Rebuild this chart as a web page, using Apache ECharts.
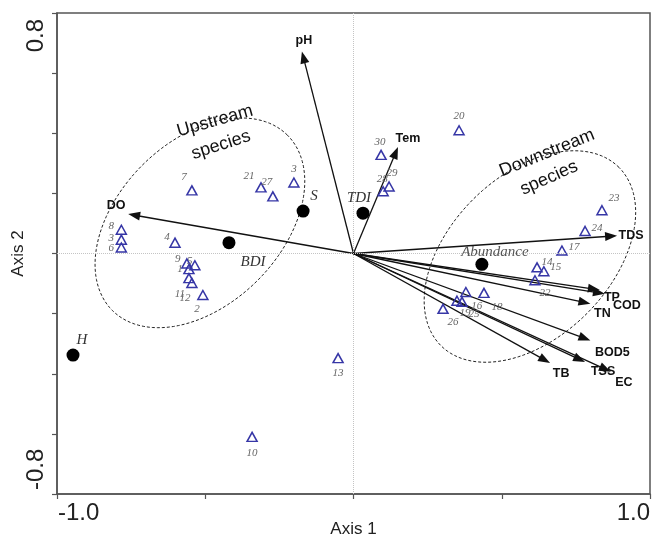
<!DOCTYPE html>
<html><head><meta charset="utf-8">
<script src="https://cdn.jsdelivr.net/npm/echarts@6/dist/echarts.min.js"></script>
<style>html,body{margin:0;padding:0;background:#fff}#c{width:652px;height:543px}</style>
</head><body><div id="c"></div>
<script>
// ---- data ----
const envNames = ['pH','Tem','DO','TDS','TP','COD','TN','BOD5','TB','TSS','EC'];
const envX = [-0.174, 0.150, -0.760, 0.889, 0.831, 0.848, 0.799, 0.799, 0.663, 0.781, 0.868];
const envY = [ 0.672, 0.354,  0.131, 0.059, -0.121, -0.134, -0.167, -0.289, -0.364, -0.361, -0.393];

const suppNames = ['H','BDI','S','TDI','Abundance'];
const suppX = [-0.946, -0.420, -0.170, 0.032, 0.433];
const suppY = [-0.338,  0.036,  0.141, 0.134, -0.036];

const speciesNames = ['7','8','3','6','4','9','5','1','11','12','2','21','27','3','30','28','29','20','23','24','17','14','15','22','16','18','19','25','26','13','10'];
const speciesX = [-0.545,-0.783,-0.783,-0.783,-0.602,-0.562,-0.535,-0.555,-0.555,-0.545,-0.508,-0.312,-0.272,-0.201,0.093,0.100,0.120,0.356,0.838,0.781,0.703,0.619,0.642,0.612,0.379,0.440,0.349,0.366,0.302,-0.052,-0.342];
const speciesY = [0.210,0.079,0.046,0.020,0.036,-0.033,-0.039,-0.052,-0.082,-0.098,-0.138,0.220,0.190,0.236,0.328,0.207,0.223,0.410,0.144,0.075,0.010,-0.046,-0.059,-0.089,-0.128,-0.131,-0.157,-0.161,-0.184,-0.348,-0.610];

const xTickLabels = ['-1.0','1.0'];
const yTickLabels = ['-0.8','0.8'];

const groupNames = [['Upstream','species'],['Downstream','species']];
const ellipseCX = [-0.518, 0.595];
const ellipseCY = [ 0.102, -0.010];
const ellipseA = [0.415, 0.422];
const ellipseB = [0.273, 0.270];
const ellipseAngle = [45, 45];

// ---- styling (label offsets in px) ----
const envLabelOffset = {pH:[2,-11],Tem:[10,-9],DO:[-12,-9],TDS:[14,0],TP:[12,8],COD:[22,12],TN:[12,10],BOD5:[22,12],TB:[11,11],TSS:[18,10],EC:[13,11]};
const speciesLabelOffset = [[-8,-13],[-10,-4],[-10,-2],[-10,1],[-8,-6],[-9,-4],[-5,-4],[-9,0],[-9,16],[-7,15],[-6,14],[-12,-11],[-6,-14],[0,-13],[-1,-13],[-1,-12],[3,-13],[0,-14],[12,-12],[12,-3],[12,-3],[10,-5],[12,-4],[10,13],[11,14],[13,14],[8,12],[12,12],[10,13],[0,15],[0,16]];
const suppLabelOffset = [[9,-15],[24,19],[11,-15],[-4,-15],[13,-12]];

const chart = echarts.init(document.getElementById('c'), null, {renderer:'canvas'});
const SANS = 'Liberation Sans, Arial, sans-serif';
const SERIF = 'Liberation Serif, Times New Roman, serif';

const option = {
  animation: false,
  grid: {left:57, right:2, top:13, bottom:42, show:true, borderColor:'#555', borderWidth:1.5},
  xAxis: {
    type:'value', min:-1, max:1, interval:0.5,
    axisLine:{show:true, onZero:false, lineStyle:{color:'#555', width:1.5}},
    axisTick:{show:true, length:5, lineStyle:{color:'#555', width:1.2}},
    axisLabel:{show:false}, splitLine:{show:false},
    name:'Axis 1', nameLocation:'middle', nameGap:27,
    nameTextStyle:{fontSize:17, color:'#222', fontFamily:SANS}
  },
  yAxis: {
    type:'value', min:-0.8, max:0.8, interval:0.2,
    axisLine:{show:true, onZero:false, lineStyle:{color:'#555', width:1.5}},
    axisTick:{show:true, length:5, lineStyle:{color:'#555', width:1.2}},
    axisLabel:{show:false}, splitLine:{show:false},
    name:'Axis 2', nameLocation:'middle', nameGap:30,
    nameTextStyle:{fontSize:17, color:'#222', fontFamily:SANS}
  },
  series: [
    {
      type:'custom', coordinateSystem:'cartesian2d', silent:true, z:1,
      data: ellipseCX.map((cx,i)=>[cx, ellipseCY[i], ellipseA[i], ellipseB[i], ellipseAngle[i]]),
      renderItem(params, api){
        const c = api.coord([api.value(0), api.value(1)]);
        const s = api.size([1,1]);
        const k = Math.sqrt(s[0]*s[1]);
        const rx = api.value(2)*k, ry = api.value(3)*k;
        const t = api.value(4)*Math.PI/180;
        const pts = [];
        for (let j=0;j<120;j++){
          const a = j/120*2*Math.PI;
          const ex = rx*Math.cos(a), ey = ry*Math.sin(a);
          pts.push([c[0] + ex*Math.cos(t) - ey*Math.sin(t), c[1] - (ex*Math.sin(t) + ey*Math.cos(t))]);
        }
        return {type:'polygon', shape:{points:pts}, style:{fill:'none', stroke:'#222', lineWidth:1, lineDash:[3,2]}};
      }
    },
    {
      type:'scatter', symbol:'circle', symbolSize:0, silent:true, z:0,
      data:[[0,0]],
      markLine:{silent:true, symbol:['none','none'], label:{show:false},
        lineStyle:{type:'dotted', color:'#c4c4c4', width:1},
        data:[{xAxis:0},{yAxis:0}]}
    },
    {
      type:'custom', coordinateSystem:'cartesian2d', silent:true, z:3,
      data: envNames.map((n,i)=>[envX[i], envY[i]]),
      renderItem(params, api){
        const name = envNames[params.dataIndex];
        const off = envLabelOffset[name];
        const p0 = api.coord([0,0]);
        const p1 = api.coord([api.value(0), api.value(1)]);
        const dx = p1[0]-p0[0], dy = p1[1]-p0[1];
        const L = Math.hypot(dx,dy), ux = dx/L, uy = dy/L;
        const hl = 12, hw = 4.5;
        const bx = p1[0]-ux*hl, by = p1[1]-uy*hl;
        return {type:'group', children:[
          {type:'line', shape:{x1:p0[0], y1:p0[1], x2:bx+ux*1, y2:by+uy*1}, style:{stroke:'#111', lineWidth:1.3}},
          {type:'polygon', shape:{points:[[p1[0],p1[1]],[bx-uy*hw, by+ux*hw],[bx+uy*hw, by-ux*hw]]}, style:{fill:'#111'}},
          {type:'text', x:p1[0]+off[0], y:p1[1]+off[1], style:{text:name, fill:'#111', font:'bold 12.5px '+SANS, align:'center', verticalAlign:'middle', textAlign:'center', textVerticalAlign:'middle'}}
        ]};
      }
    },
    {
      type:'scatter', z:4, symbol:'triangle', symbolSize:[10,9],
      itemStyle:{color:'rgba(255,255,255,0)', borderColor:'#3636a6', borderWidth:1.5, opacity:1},
      data: speciesNames.map((n,i)=>({name:n, value:[speciesX[i], speciesY[i]],
        label:{offset:speciesLabelOffset[i]}})),
      label:{show:true, position:'inside', formatter:'{b}', fontFamily:SERIF, fontStyle:'italic', fontSize:11, color:'#666'}
    },
    {
      type:'scatter', z:5, symbol:'circle', symbolSize:13,
      itemStyle:{color:'#000', opacity:1},
      data: suppNames.map((n,i)=>({name:n, value:[suppX[i], suppY[i]],
        label:{offset:suppLabelOffset[i], color: n==='Abundance' ? '#555' : '#333'}})),
      label:{show:true, position:'inside', formatter:'{b}', fontFamily:SERIF, fontStyle:'italic', fontSize:15, color:'#333'}
    }
  ]
};
chart.setOption(option);

// axis end labels and group captions
const pMin = chart.convertToPixel({gridIndex:0}, [-1, -0.8]);
const pMax = chart.convertToPixel({gridIndex:0}, [1, 0.8]);
const tickFont = '24px ' + SANS;
const groupFont = '18px ' + SANS;
const g = [
  {type:'text', x:pMin[0]+1, y:pMin[1]+19, style:{text:xTickLabels[0], font:tickFont, fill:'#222', textAlign:'left', textVerticalAlign:'middle'}},
  {type:'text', x:pMax[0], y:pMin[1]+19, style:{text:xTickLabels[1], font:tickFont, fill:'#222', textAlign:'right', textVerticalAlign:'middle'}},
  {type:'text', x:pMin[0]-21, y:pMin[1]-4, rotation:Math.PI/2, style:{text:yTickLabels[0], font:tickFont, fill:'#222', textAlign:'left', textVerticalAlign:'middle'}},
  {type:'text', x:pMin[0]-21, y:pMax[1]+6, rotation:Math.PI/2, style:{text:yTickLabels[1], font:tickFont, fill:'#222', textAlign:'right', textVerticalAlign:'middle'}},
  {type:'text', x:215, y:121, rotation:16*Math.PI/180, style:{text:groupNames[0][0], font:groupFont, fill:'#111', textAlign:'center', textVerticalAlign:'middle'}},
  {type:'text', x:221, y:145, rotation:18*Math.PI/180, style:{text:groupNames[0][1], font:groupFont, fill:'#111', textAlign:'center', textVerticalAlign:'middle'}},
  {type:'text', x:547, y:153, rotation:22*Math.PI/180, style:{text:groupNames[1][0], font:groupFont, fill:'#111', textAlign:'center', textVerticalAlign:'middle'}},
  {type:'text', x:549, y:178, rotation:24*Math.PI/180, style:{text:groupNames[1][1], font:groupFont, fill:'#111', textAlign:'center', textVerticalAlign:'middle'}}
];
chart.setOption({graphic: g});
</script>
</body></html>
